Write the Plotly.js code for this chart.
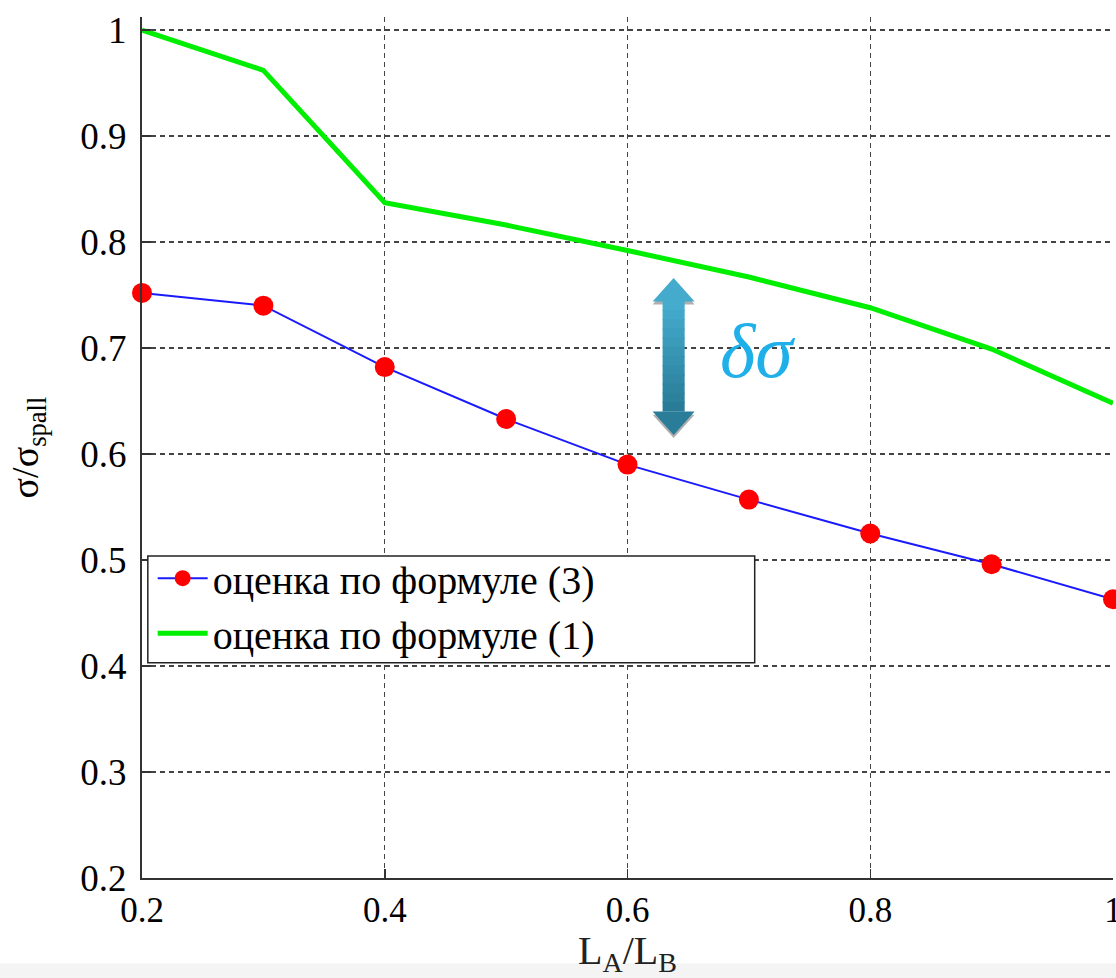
<!DOCTYPE html>
<html>
<head>
<meta charset="utf-8">
<script src="https://cdn.plot.ly/plotly-3.0.1.min.js"></script>
<style>html,body{margin:0;padding:0;background:#fff;}#chart{width:1116px;height:978px;}</style>
</head>
<body>
<div id="chart"></div>
<script>
// Data
const ratio = [0.2, 0.3, 0.4, 0.5, 0.6, 0.7, 0.8, 0.9, 1.0];
const formula3 = [0.752, 0.740, 0.682, 0.633, 0.590, 0.557, 0.525, 0.496, 0.463];
const formula1 = [1.000, 0.962, 0.837, 0.816, 0.792, 0.767, 0.738, 0.699, 0.648];
const seriesNames = ['оценка по формуле (3)', 'оценка по формуле (1)'];
const xTicks = [0.2, 0.4, 0.6, 0.8, 1];
const xTickText = ['0.2', '0.4', '0.6', '0.8', '1'];
const yTicks = [0.2, 0.3, 0.4, 0.5, 0.6, 0.7, 0.8, 0.9, 1];
const yTickText = ['0.2', '0.3', '0.4', '0.5', '0.6', '0.7', '0.8', '0.9', '1'];

const serif = '"Liberation Serif", "Times New Roman", Times, serif';

const traces = [
  {
    x: ratio, y: formula3, name: seriesNames[0], type: 'scatter', mode: 'lines+markers',
    line: {color: '#1a1aff', width: 2},
    marker: {color: '#ff0000', size: 20, line: {width: 0}},
    cliponaxis: false
  },
  {
    x: ratio, y: formula1, name: seriesNames[1], type: 'scatter', mode: 'lines',
    line: {color: '#00ee00', width: 5},
    cliponaxis: false
  }
];

// Double arrow annotation (data coords), drawn with a vertical colour gradient
const arrCx = 0.638, arrTop = 0.766, arrBot = 0.618, arrHH = 0.022, arrSW = 0.0091, arrHW = 0.0173;
const colTop = [70, 174, 208], colBot = [40, 122, 150];
function mix(t) {
  const c = colTop.map((v, i) => Math.round(v + (colBot[i] - v) * t));
  return 'rgb(' + c.join(',') + ')';
}
function poly(pts) { return 'M ' + pts.map(q => q[0] + ',' + q[1]).join(' L ') + ' Z'; }
const arrowShapes = [];
const sh = 0.003;
// shadow
arrowShapes.push({type: 'path', xref: 'x', yref: 'y', layer: 'above', line: {width: 0},
  fillcolor: 'rgba(110,110,110,0.55)',
  path: poly([[arrCx, arrTop - sh], [arrCx + arrHW, arrTop - arrHH - sh], [arrCx - arrHW, arrTop - arrHH - sh]])});
arrowShapes.push({type: 'path', xref: 'x', yref: 'y', layer: 'above', line: {width: 0},
  fillcolor: 'rgba(110,110,110,0.55)',
  path: poly([[arrCx, arrBot - sh], [arrCx + arrHW, arrBot + arrHH - sh], [arrCx - arrHW, arrBot + arrHH - sh]])});
// heads
arrowShapes.push({type: 'path', xref: 'x', yref: 'y', layer: 'above', line: {width: 0}, fillcolor: mix(0.05),
  path: poly([[arrCx, arrTop], [arrCx + arrHW, arrTop - arrHH], [arrCx - arrHW, arrTop - arrHH]])});
arrowShapes.push({type: 'path', xref: 'x', yref: 'y', layer: 'above', line: {width: 0}, fillcolor: mix(0.95),
  path: poly([[arrCx, arrBot], [arrCx + arrHW, arrBot + arrHH], [arrCx - arrHW, arrBot + arrHH]])});
// shaft bands
const nBands = 12;
const s0 = arrTop - arrHH, s1 = arrBot + arrHH;
for (let i = 0; i < nBands; i++) {
  const ya = s0 + (s1 - s0) * i / nBands;
  const yb = s0 + (s1 - s0) * (i + 1) / nBands + (i < nBands - 1 ? -0.0005 : 0);
  arrowShapes.push({type: 'rect', xref: 'x', yref: 'y', layer: 'above', line: {width: 0},
    fillcolor: mix((i + 0.5) / nBands), x0: arrCx - arrSW, x1: arrCx + arrSW, y0: ya + 0.0005, y1: yb});
}

const layout = {
  width: 1116, height: 978,
  margin: {l: 142, r: 3, t: 17, b: 100},
  paper_bgcolor: '#ffffff', plot_bgcolor: '#ffffff',
  showlegend: true,
  font: {family: serif, color: '#000', size: 36},
  xaxis: {
    range: [0.2, 1.0], tickvals: xTicks, ticktext: xTickText,
    showgrid: true, gridcolor: '#444', griddash: '5px,4px', gridwidth: 1.4,
    zeroline: false, showline: true, linecolor: '#333', linewidth: 2,
    ticks: 'inside', ticklen: 9, tickwidth: 1.5, tickcolor: '#333',
    ticklabeloverflow: 'allow',
    tickfont: {family: serif, size: 35, color: '#000'},
    title: {text: 'L<sub>A</sub>/L<sub>B</sub>', font: {family: serif, size: 40, color: '#222'}, standoff: 2},
    fixedrange: true
  },
  yaxis: {
    range: [0.2, 1.0123], tickvals: yTicks, ticktext: yTickText,
    showgrid: true, gridcolor: '#444', griddash: '5px,4px', gridwidth: 1.4,
    zeroline: false, showline: true, linecolor: '#333', linewidth: 2,
    ticks: 'inside', ticklen: 9, tickwidth: 1.5, tickcolor: '#333',
    ticklabelstandoff: 6, ticklabeloverflow: 'allow',
    tickfont: {family: serif, size: 37, color: '#000'},
    title: {text: 'σ/σ<sub>spall</sub>', font: {family: serif, size: 38, color: '#000'}, standoff: 30},
    fixedrange: true
  },
  legend: {
    x: 0.011, y: 0.386, xanchor: 'left', yanchor: 'top',
    bgcolor: 'rgba(0,0,0,0)', borderwidth: 0,
    font: {family: serif, size: 40, color: '#000'},
    tracegroupgap: 0, itemwidth: 50
  },
  shapes: [
    {type: 'rect', xref: 'paper', yref: 'paper', x0: -0.3, x1: 1.1, y0: -0.2, y1: -0.099,
     fillcolor: '#f4f4f4', line: {width: 0}, layer: 'below'},
    {type: 'rect', xref: 'paper', yref: 'paper', x0: 0.006, x1: 0.631, y0: 0.250, y1: 0.374,
     fillcolor: '#ffffff', line: {color: '#222', width: 1.5}, layer: 'above'}
  ].concat(arrowShapes),
  annotations: [
    {x: 0.7067, y: 0.697, xref: 'x', yref: 'y', text: '<i>δσ</i>', showarrow: false,
     font: {family: serif, size: 76, color: '#1fb0ea'}}
  ]
};

Plotly.newPlot('chart', traces, layout, {staticPlot: true, displayModeBar: false});
</script>
</body>
</html>
